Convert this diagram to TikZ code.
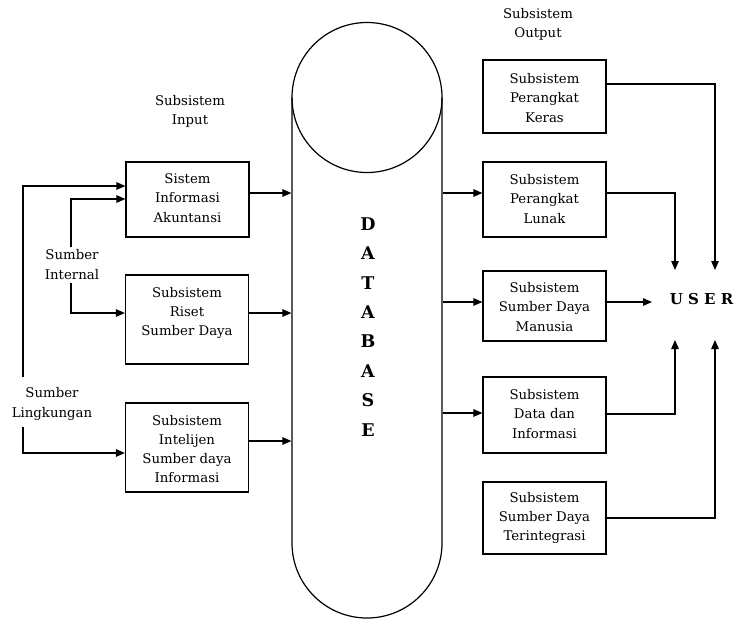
\documentclass[tikz,border=0pt]{standalone}
\usepackage{fontspec}
\setmainfont{DejaVu Serif}
\usetikzlibrary{arrows.meta}
\begin{document}
\begin{tikzpicture}[x=1pt,y=-1pt,
  line width=1.2pt,
  box/.style={draw, line width=1.2pt, minimum width=123pt, inner sep=0pt},
  txt/.style={align=center, font=\fontsize{13.3}{19.3}\selectfont, inner sep=0pt},
  big/.style={font=\fontsize{17.5}{19}\selectfont\bfseries, inner sep=0pt},
  arr/.style={-{Triangle[length=9pt,width=7.5pt]}},
]
\useasboundingbox (0,0) rectangle (735,619);

% database cylinder
\node[minimum width=150pt, minimum height=596pt, inner sep=0pt] (db) at (367,320) {};
\draw (292,97.5) -- (292,543) arc[start angle=180, end angle=0, radius=75] -- (442,97.5);
\draw (367,97.5) circle[radius=75];
\foreach \ch [count=\i from 0] in {D,A,T,A,B,A,S,E}
  \node[big] (db\i) at (368,224+29.4*\i) {\ch};

% input subsystems
\node[txt] (lblIn) at (190,111) {Subsistem\\Input};
\node[box, minimum height=75pt] (sia) at (187.5,199.5) {};
\node[txt] (siaT) at (187.5,198) {Sistem\\Informasi\\Akuntansi};
\node[box, minimum height=89pt] (rsd) at (187,319.5) {};
\node[txt] (rsdT) at (187,313) {Subsistem\\Riset\\Sumber Daya};
\node[box, minimum height=89pt] (intel) at (187,447.5) {};
\node[txt] (intelT) at (187,449) {Subsistem\\Intelijen\\Sumber daya\\Informasi};

% sources
\node[txt] (srcIn) at (72,264.5) {Sumber\\Internal};
\node[txt] (srcLk) at (52,404) {Sumber\\Lingkungan};
\coordinate (lkTop) at (23,377);
\coordinate (lkBot) at (23,427);
\coordinate (inTop) at (71,247);
\coordinate (inBot) at (71,283);
\draw[arr] (lkTop) |- ([yshift=13.5pt]sia.west);
\draw[arr] (inTop) |- ([yshift=0.5pt]sia.west);
\draw[arr] (inBot) |- ([yshift=6.5pt]rsd.west);
\draw[arr] (lkBot) |- ([yshift=-5.5pt]intel.west);

% inputs into the database
\coordinate (siaOut) at ([yshift=6.5pt]sia.east);
\coordinate (rsdOut) at ([yshift=6.5pt]rsd.east);
\coordinate (intelOut) at ([yshift=6.5pt]intel.east);
\draw[arr] (siaOut) -- (siaOut -| db.west);
\draw[arr] (rsdOut) -- (rsdOut -| db.west);
\draw[arr] (intelOut) -- (intelOut -| db.west);

% output subsystems
\node[txt] (lblOut) at (538,24) {Subsistem\\Output};
\node[box, minimum height=73pt] (keras) at (544.5,96.5) {};
\node[txt] (kerasT) at (544.5,98) {Subsistem\\Perangkat\\Keras};
\node[box, minimum height=75pt] (lunak) at (544.5,199.5) {};
\node[txt] (lunakT) at (544.5,199) {Subsistem\\Perangkat\\Lunak};
\node[box, minimum height=70pt] (sdm) at (544.5,306) {};
\node[txt] (sdmT) at (544.5,307) {Subsistem\\Sumber Daya\\Manusia};
\node[box, minimum height=76pt] (data) at (544.5,415) {};
\node[txt] (dataT) at (544.5,414) {Subsistem\\Data dan\\Informasi};
\node[box, minimum height=72pt] (terint) at (544.5,518) {};
\node[txt] (terintT) at (544.5,518) {Subsistem\\Sumber Daya\\Terintegrasi};

% database into outputs
\coordinate (toLunak) at ([yshift=6.5pt]lunak.west);
\coordinate (toSdm) at ([yshift=4pt]sdm.west);
\coordinate (toData) at ([yshift=2pt]data.west);
\draw[arr] (toLunak -| db.east) -- (toLunak);
\draw[arr] (toSdm -| db.east) -- (toSdm);
\draw[arr] (toData -| db.east) -- (toData);

% user
\node[font=\fontsize{15}{18}\selectfont\bfseries, inner sep=0pt] (user) at (701.5,299) {U S E R};
\coordinate (uTL) at (675,270);
\coordinate (uTR) at (715,270);
\coordinate (uBL) at (675,340);
\coordinate (uBR) at (715,340);
\coordinate (uL) at (652,302);
\coordinate (kOut) at ([yshift=12.5pt]keras.east);
\coordinate (lOut) at ([yshift=6.5pt]lunak.east);
\coordinate (sOut) at ([yshift=4pt]sdm.east);
\coordinate (dOut) at ([yshift=1pt]data.east);
\draw[arr] (kOut) -| (uTR);
\draw[arr] (lOut) -| (uTL);
\draw[arr] (sOut) -- (uL);
\draw[arr] (dOut) -| (uBL);
\draw[arr] (terint.east) -| (uBR);
\end{tikzpicture}
\end{document}
